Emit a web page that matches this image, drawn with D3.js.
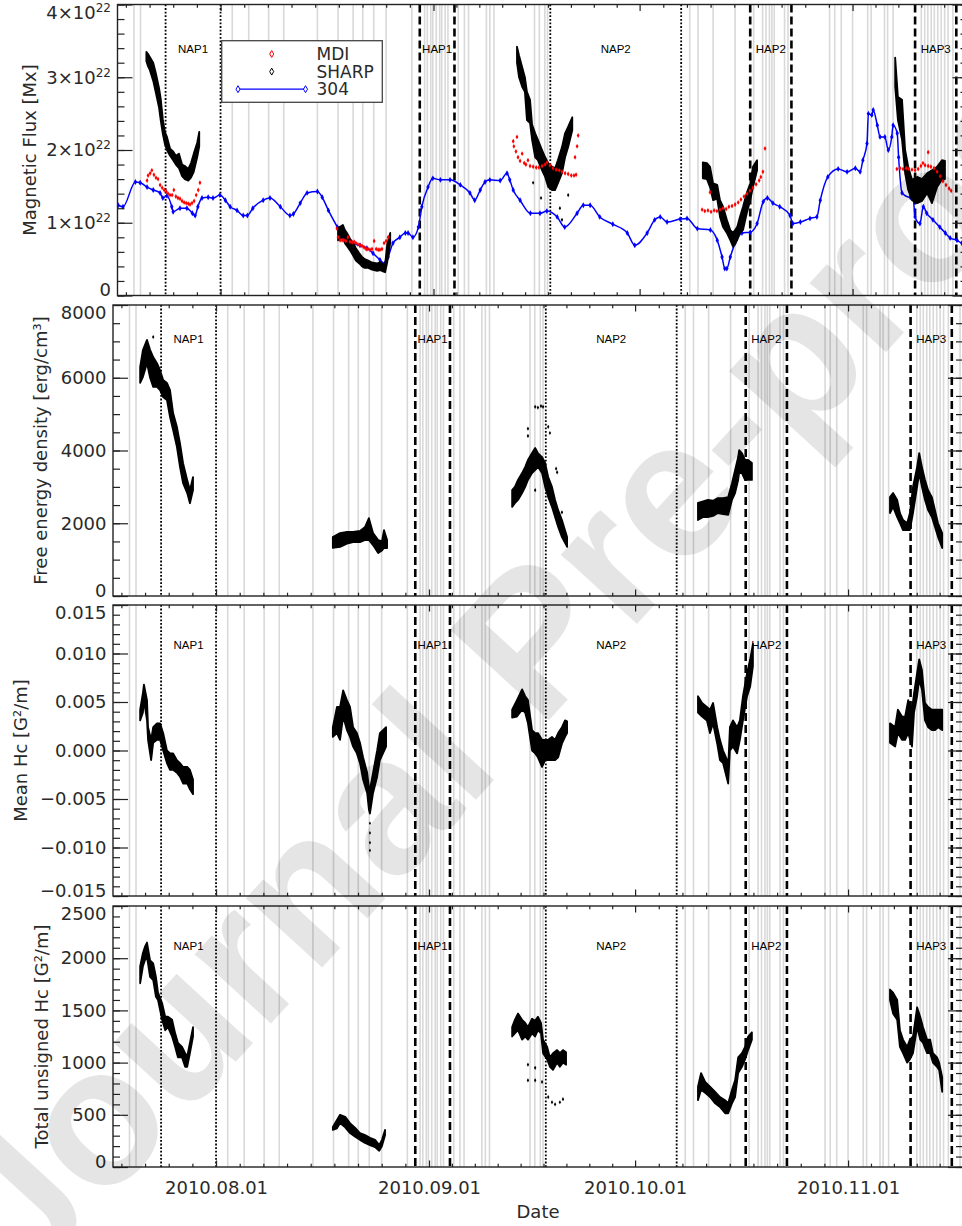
<!DOCTYPE html>
<html>
<head>
<meta charset="utf-8">
<script src="https://cdnjs.cloudflare.com/ajax/libs/d3/7.8.5/d3.min.js"></script>
<style>
  body { margin: 0; background: #fff; }
  svg { display: block; }
</style>
</head>
<body>
<div id="chart-area"></div>
<script>
/*
 *    four stacked panels, AR evolution 2010.07 - 2010.11
 *    all times are in days since 2010-07-01 00:00 UT
 */

// flare times (grey vertical lines)
const flareDays = [18.4, 19.35, 32.7, 35.1, 38.0, 40.2, 45.1, 48.1, 50.3, 51.7, 53.3, 55.1, 58.85,
    60.7, 61.1, 61.6, 61.9, 62.4, 62.9, 63.2, 63.7, 64.1, 65.6, 66.5, 67.1,
    69.7, 70.2, 70.8, 76.7, 77.4, 78.2, 78.6, 99.3, 100.5, 102.7, 105.9, 108.6,
    109.9, 110.4, 110.9, 111.25, 111.6, 113.1, 113.6, 119.65, 120.4, 121.35, 123.0,
    125.2, 125.7, 127.65, 128.1, 128.9, 133.0, 133.5, 133.95, 134.45, 134.9, 135.4,
    135.9, 136.4, 136.9, 137.6, 139.3];

// quiet (NAP) and active (HAP) periods
const periodNames = ["NAP1", "HAP1", "NAP2", "HAP2", "HAP3"];
const periodStart = [23.0, 60.0, 79.0, 108.1, 132.1];
const periodEnd = [31.0, 65.05, 98.05, 114.1, 138.1];

// panel 1: magnetic flux, units of 1e22 Mx
// SHARP: [day, low, high] of the point cloud
const sharpFlux = [
    [20.2, 3.22, 3.35], [20.45, 3.15, 3.32], [20.7, 3.10, 3.28], [21.2, 2.95, 3.20], [21.6, 2.78, 3.05],
    [22.05, 2.58, 2.85], [22.3, 2.40, 2.70], [22.6, 2.22, 2.42], [22.9, 2.08, 2.25], [23.2, 2.00, 2.18],
    [23.65, 1.92, 2.02], [24.1, 1.86, 1.98], [24.5, 1.80, 1.92], [24.95, 1.75, 1.95], [25.4, 1.64, 1.80],
    [25.8, 1.60, 1.78], [26.3, 1.58, 1.74], [26.7, 1.62, 1.82], [27.1, 1.70, 1.95], [27.6, 1.90, 2.10],
    [27.9, 2.05, 2.25],
    [48.1, 0.76, 0.93], [48.5, 0.78, 0.95], [48.8, 0.82, 0.97], [49.1, 0.72, 0.90], [49.4, 0.68, 0.86],
    [49.85, 0.62, 0.78], [50.3, 0.55, 0.72], [50.7, 0.48, 0.65], [51.2, 0.44, 0.58], [51.6, 0.40, 0.53],
    [52.0, 0.38, 0.50], [52.5, 0.38, 0.48], [52.9, 0.36, 0.46], [53.35, 0.35, 0.45], [53.8, 0.34, 0.44],
    [54.2, 0.35, 0.46], [54.65, 0.33, 0.43], [54.95, 0.32, 0.42], [55.25, 0.45, 0.70], [55.7, 0.72, 0.86],
    [74.15, 3.20, 3.42], [74.45, 3.00, 3.30], [74.9, 2.87, 3.14], [75.3, 2.80, 3.00], [75.6, 2.41, 2.80],
    [76.05, 2.37, 2.69], [76.35, 2.14, 2.35], [76.8, 1.90, 2.23], [77.2, 1.86, 2.14], [77.8, 1.72, 2.00],
    [78.25, 1.63, 1.90], [78.7, 1.49, 1.82], [79.25, 1.45, 1.77], [79.7, 1.45, 1.75], [80.1, 1.54, 1.86],
    [80.7, 1.68, 2.04], [81.15, 1.90, 2.23], [81.6, 2.04, 2.32], [82.2, 2.27, 2.45],
    [101.2, 1.61, 1.83], [101.8, 1.60, 1.82], [102.25, 1.49, 1.77], [102.7, 1.31, 1.54], [103.3, 1.33, 1.52],
    [103.7, 1.08, 1.31], [104.15, 0.94, 1.22], [104.7, 0.86, 1.04], [105.2, 0.76, 0.90], [105.6, 0.67, 0.86],
    [106.2, 0.76, 0.94], [106.6, 0.86, 1.08], [107.05, 0.90, 1.22], [107.6, 1.13, 1.41], [108.1, 1.31, 1.54],
    [108.5, 1.49, 1.77], [109.1, 1.72, 1.86],
    [129.2, 2.87, 3.27], [129.6, 2.41, 2.73], [130.2, 2.14, 2.69], [130.65, 1.68, 2.00], [131.1, 1.45, 1.77],
    [131.65, 1.31, 1.59], [132.4, 1.27, 1.63], [133.1, 1.30, 1.60], [133.85, 1.41, 1.68], [134.55, 1.27, 1.72],
    [135.3, 1.49, 1.77], [136.0, 1.59, 1.86], [136.45, 1.60, 1.85]
];
const sharpFluxOut = [[76.5, 1.55], [77.65, 1.34], [80.4, 1.20], [80.7, 1.04], [81.6, 1.38]];

// MDI: [day, flux]
const mdiFlux = [
    [20.3, 1.58], [20.45, 1.65], [20.75, 1.68], [21.0, 1.72], [21.3, 1.66], [21.6, 1.62], [21.9, 1.60],
    [22.2, 1.52], [22.5, 1.48], [22.8, 1.45], [23.1, 1.43], [23.35, 1.40], [23.65, 1.38], [23.95, 1.38],
    [24.2, 1.45], [24.5, 1.36], [24.8, 1.34], [25.1, 1.33], [25.4, 1.30], [25.7, 1.28], [26.0, 1.27],
    [26.3, 1.26], [26.55, 1.25], [26.85, 1.27], [27.15, 1.30], [27.45, 1.38], [27.75, 1.45], [28.0, 1.55],
    [47.95, 0.92], [48.1, 0.80], [48.4, 0.76], [48.7, 0.76], [48.95, 0.76], [49.25, 0.75], [49.55, 0.80],
    [49.85, 0.74], [50.15, 0.73], [50.45, 0.74], [50.7, 0.72], [51.0, 0.70], [51.3, 0.69], [51.6, 0.68],
    [51.9, 0.66], [52.2, 0.64], [52.45, 0.64], [52.75, 0.63], [53.05, 0.64], [53.35, 0.75], [53.65, 0.64],
    [53.95, 0.63], [54.2, 0.63], [54.5, 0.64], [54.8, 0.72], [55.1, 0.75], [55.4, 0.80],
    [73.6, 2.12], [73.7, 2.05], [74.0, 1.98], [74.15, 2.18], [74.3, 1.90], [74.6, 1.85], [74.9, 1.95],
    [75.2, 1.82], [75.45, 1.80], [75.75, 1.86], [76.05, 1.78], [76.5, 1.77], [76.95, 1.76], [77.35, 1.76],
    [77.8, 1.78], [78.25, 1.80], [78.55, 1.83], [78.95, 1.79], [79.4, 1.75], [79.85, 1.73], [80.3, 1.72],
    [80.7, 1.70], [81.15, 1.68], [81.6, 1.67], [82.05, 1.65], [82.45, 1.65], [82.6, 1.90], [82.75, 1.66],
    [82.9, 2.05], [83.05, 2.20],
    [101.1, 1.18], [101.5, 1.16], [101.95, 1.17], [102.25, 1.42], [102.4, 1.15], [102.85, 1.17],
    [103.25, 1.16], [103.7, 1.18], [104.15, 1.20], [104.6, 1.19], [105.0, 1.22], [105.45, 1.23],
    [105.9, 1.25], [106.35, 1.28], [106.75, 1.32], [107.2, 1.36], [107.65, 1.40], [108.05, 1.44],
    [108.5, 1.48], [108.95, 1.53], [109.4, 1.58], [109.65, 1.63], [109.95, 1.70], [110.25, 2.02],
    [129.45, 1.74], [129.9, 1.75], [130.35, 1.74], [130.8, 1.75], [131.2, 1.74], [131.65, 1.73],
    [132.1, 1.72], [132.55, 1.74], [132.95, 1.78], [133.25, 1.82], [133.55, 1.79], [134.0, 1.78],
    [134.0, 1.97], [134.4, 1.77], [134.85, 1.75], [135.3, 1.70], [135.75, 1.64], [136.15, 1.57],
    [136.6, 1.52], [137.05, 1.47], [137.35, 1.44]
];

// 304 A proxy flux: [day, flux]
const flux304 = [
    [16.1, 1.24], [16.8, 1.22], [18.6, 1.56], [19.3, 1.55], [20.3, 1.49], [21.2, 1.45], [22.2, 1.41],
    [22.6, 1.34], [23.2, 1.37], [23.9, 1.22], [24.1, 1.15], [25.1, 1.20], [26.1, 1.20], [26.9, 1.13],
    [27.3, 1.10], [27.7, 1.22], [28.3, 1.34], [29.2, 1.35], [29.9, 1.34], [30.9, 1.38], [31.7, 1.31],
    [32.4, 1.22], [33.4, 1.17], [34.3, 1.10], [34.9, 1.10], [35.7, 1.20], [37.2, 1.31], [38.2, 1.34],
    [39.7, 1.22], [41.1, 1.10], [41.6, 1.12], [42.6, 1.27], [43.6, 1.41], [45.1, 1.43], [45.8, 1.35],
    [46.7, 1.17], [48.0, 0.94], [48.8, 0.80], [49.9, 0.72], [51.3, 0.69], [52.3, 0.65], [53.2, 0.58],
    [54.2, 0.49], [54.9, 0.44], [55.4, 0.53], [56.1, 0.72], [57.1, 0.80], [57.9, 0.86], [58.3, 0.86],
    [59.0, 0.80], [59.8, 0.94], [60.3, 1.22], [61.2, 1.49], [61.9, 1.61], [63.0, 1.59], [64.4, 1.59],
    [65.9, 1.52], [67.3, 1.41], [68.0, 1.31], [68.8, 1.45], [69.5, 1.56], [70.2, 1.59], [71.7, 1.58],
    [72.7, 1.68], [73.1, 1.59], [73.6, 1.45], [74.6, 1.31], [76.1, 1.13], [77.5, 1.13], [78.5, 1.16],
    [80.0, 1.08], [81.1, 0.94], [82.9, 1.13], [83.8, 1.24], [84.8, 1.24], [86.2, 1.08], [88.1, 0.98],
    [90.2, 0.86], [91.3, 0.69], [93.1, 0.86], [94.2, 1.04], [95.0, 1.08], [96.0, 1.01], [97.9, 1.05],
    [98.9, 1.06], [100.4, 0.92], [102.3, 0.90], [103.3, 0.76], [104.0, 0.53], [104.4, 0.37], [104.7, 0.37],
    [105.2, 0.53], [105.9, 0.72], [106.9, 0.86], [108.1, 0.87], [109.1, 0.99], [110.0, 1.29], [110.6, 1.34],
    [111.4, 1.27], [112.4, 1.22], [113.9, 1.10], [114.3, 0.99], [115.4, 1.01], [116.8, 1.06], [117.8, 1.08],
    [118.3, 1.31], [119.4, 1.63], [120.9, 1.74], [122.2, 1.70], [123.4, 1.75], [124.1, 1.70], [124.5, 1.86],
    [125.1, 2.09], [125.3, 2.50], [125.8, 2.48], [126.0, 2.55], [126.6, 2.34], [127.0, 2.18], [127.7, 2.18],
    [128.2, 2.00], [128.7, 2.18], [128.9, 2.34], [129.5, 2.23], [129.7, 1.90], [130.2, 1.41], [131.4, 1.35],
    [131.8, 1.35], [132.1, 1.08], [132.8, 0.99], [133.3, 1.22], [133.8, 1.13], [134.7, 1.04], [135.7, 0.94],
    [136.5, 0.86], [137.2, 0.79], [138.2, 0.76], [138.9, 0.72], [139.7, 0.72]
];

// panel 2: free energy density [erg/cm3], [day, low, high]
const freeEnergy = [
    [19.95, 5860, 6300], [20.35, 6020, 6760], [20.95, 6400, 7040], [21.4, 6000, 6770], [21.85, 5750, 6570],
    [22.4, 5750, 6400], [22.85, 5660, 6210], [23.3, 5470, 5940], [23.85, 5390, 5860], [24.3, 4920, 5660],
    [24.75, 4560, 5030], [25.3, 4100, 4650], [25.75, 3550, 4200], [26.2, 3100, 3650], [26.8, 2830, 3190],
    [27.2, 2550, 2910], [27.65, 2910, 3270],
    [48.0, 1320, 1620], [49.05, 1350, 1730], [50.05, 1440, 1760], [50.95, 1480, 1760], [51.95, 1480, 1790],
    [52.7, 1540, 1900], [53.25, 1540, 2140], [53.85, 1400, 1730], [54.6, 1180, 1540], [55.15, 1250, 1500],
    [55.45, 1320, 1810], [55.9, 1320, 1540],
    [74.1, 2450, 2910], [74.5, 2550, 3000], [74.95, 2640, 3190], [75.55, 2830, 3380], [76.0, 3000, 3550],
    [76.4, 3190, 3740], [77.0, 3380, 3930], [77.45, 3460, 4070], [77.85, 3550, 3930], [78.45, 3380, 3820],
    [78.9, 3000, 3660], [79.35, 2720, 3270], [79.9, 2450, 3000], [80.35, 2170, 2640], [80.8, 1900, 2360],
    [81.35, 1620, 2090], [81.8, 1460, 1810], [82.1, 1350, 1620],
    [101.15, 2090, 2560], [101.9, 2170, 2600], [102.6, 2170, 2640], [103.35, 2200, 2620], [104.05, 2280, 2690],
    [104.8, 2250, 2690], [105.55, 2230, 2720], [106.1, 2640, 3100], [106.55, 2830, 3460], [107.0, 3190, 3820],
    [107.15, 3400, 4010], [107.55, 3380, 3930], [108.0, 3190, 3740], [108.45, 3190, 3740], [109.0, 3190, 3660],
    [129.1, 2280, 2720], [129.55, 2450, 2830], [130.15, 2170, 2640], [130.55, 2000, 2280], [131.0, 1810, 2090],
    [131.6, 1810, 2000], [132.0, 1810, 2280], [132.45, 2280, 3000], [133.05, 3000, 3550], [133.35, 3380, 3930],
    [133.75, 3000, 3550], [134.2, 2640, 3190], [134.65, 2360, 2910], [135.2, 2170, 2720], [135.65, 1900, 2360],
    [136.1, 1620, 2000], [136.7, 1320, 1730]
];
const freeEnergyOut = [[21.85, 7120], [76.4, 4400], [76.4, 4600], [77.45, 5200], [77.85, 5180],
    [78.3, 5220], [78.6, 5200], [79.35, 4650], [79.6, 4480], [80.5, 3500], [80.65, 3400], [81.35, 2300],
    [77.45, 2910]];

// panel 3: mean current helicity [G2/m], [day, low, high]
const meanHc = [
    [19.95, 0.0031, 0.0042], [20.35, 0.0039, 0.0059], [20.5, 0.0052, 0.0068], [20.95, 0.0031, 0.0052],
    [21.1, 0.0011, 0.0024], [21.55, -0.0010, 0.0011], [21.85, 0.0008, 0.0024], [22.4, 0.0011, 0.0028],
    [22.85, 0.0011, 0.0028], [23.3, 0.0000, 0.0018], [23.85, -0.0013, 0.0000], [24.3, -0.0020, -0.0003],
    [24.75, -0.0020, -0.0003], [25.3, -0.0023, -0.0010], [25.75, -0.0027, -0.0013], [26.2, -0.0034, -0.0017],
    [26.8, -0.0034, -0.0017], [27.2, -0.0040, -0.0020], [27.65, -0.0045, -0.0030],
    [48.0, 0.0014, 0.0024], [48.6, 0.0018, 0.0045], [49.05, 0.0011, 0.0045], [49.5, 0.0035, 0.0062],
    [50.05, 0.0021, 0.0052], [50.5, 0.0014, 0.0045], [50.95, 0.0004, 0.0024], [51.5, -0.0003, 0.0018],
    [51.95, -0.0013, 0.0008], [52.4, -0.0030, -0.0007], [53.0, -0.0044, -0.0023], [53.25, -0.0061, -0.0038],
    [53.4, -0.0065, -0.0040], [53.85, -0.0044, -0.0023], [54.45, -0.0027, 0.0000], [54.85, -0.0010, 0.0018],
    [55.3, -0.0003, 0.0021], [55.75, 0.0004, 0.0024],
    [74.1, 0.0034, 0.0042], [74.8, 0.0035, 0.0052], [75.55, 0.0042, 0.0063], [76.0, 0.0039, 0.0056],
    [76.4, 0.0028, 0.0052], [77.0, 0.0000, 0.0021], [77.45, -0.0003, 0.0018], [77.85, -0.0007, 0.0018],
    [78.45, -0.0017, 0.0011], [78.9, -0.0010, 0.0011], [79.35, -0.0010, 0.0011], [79.9, -0.0010, 0.0014],
    [80.35, -0.0010, 0.0011], [80.8, -0.0007, 0.0018], [81.35, 0.0007, 0.0024], [81.8, 0.0014, 0.0031],
    [82.1, 0.0018, 0.0030],
    [101.15, 0.0039, 0.0056], [101.75, 0.0035, 0.0049], [102.45, 0.0031, 0.0045], [102.9, 0.0018, 0.0042],
    [103.35, 0.0028, 0.0049], [103.95, 0.0007, 0.0024], [104.35, -0.0010, 0.0011], [104.8, -0.0013, 0.0000],
    [105.4, -0.0030, -0.0010], [105.55, -0.0034, -0.0017], [105.8, 0.0000, 0.0024], [106.25, 0.0004, 0.0031],
    [106.85, -0.0003, 0.0024], [107.25, 0.0011, 0.0031], [107.7, 0.0031, 0.0056], [108.3, 0.0056, 0.0080],
    [108.75, 0.0066, 0.0094], [109.15, 0.0087, 0.0110],
    [129.1, 0.0008, 0.0028], [129.85, 0.0004, 0.0024], [130.25, 0.0018, 0.0042], [130.85, 0.0011, 0.0035],
    [131.3, 0.0011, 0.0035], [131.75, 0.0018, 0.0052], [132.3, 0.0004, 0.0042], [132.6, 0.0039, 0.0059],
    [133.05, 0.0056, 0.0080], [133.35, 0.0073, 0.0094], [133.75, 0.0063, 0.0083], [134.2, 0.0031, 0.0049],
    [134.65, 0.0024, 0.0045], [135.2, 0.0021, 0.0042], [135.65, 0.0021, 0.0042], [136.1, 0.0024, 0.0042],
    [136.7, 0.0021, 0.0042]
];
const meanHcOut = [[53.4, -0.0075], [53.4, -0.0085], [53.4, -0.0095], [53.4, -0.0103]];

// panel 4: total unsigned current helicity [G2/m], [day, low, high]
const totalHc = [
    [19.95, 1760, 1920], [20.35, 1920, 2050], [20.65, 1980, 2110], [20.95, 2010, 2150], [21.4, 1820, 1980],
    [21.85, 1790, 1950], [22.25, 1630, 1820], [22.55, 1600, 1670], [23.15, 1410, 1570], [23.6, 1310, 1440],
    [24.0, 1340, 1440], [24.6, 1250, 1410], [25.05, 1150, 1280], [25.45, 1050, 1190], [26.05, 1050, 1150],
    [26.5, 960, 1090], [26.8, 960, 1060], [27.2, 1090, 1190], [27.65, 1250, 1340],
    [48.0, 355, 383], [48.6, 370, 450], [49.05, 420, 500], [49.8, 380, 480], [50.5, 325, 420],
    [51.25, 290, 375], [51.95, 260, 325], [52.7, 230, 305], [53.4, 210, 280], [54.15, 190, 260],
    [54.75, 155, 210], [55.15, 200, 260], [55.6, 305, 355],
    [74.1, 1250, 1340], [74.5, 1280, 1410], [74.95, 1310, 1470], [75.55, 1220, 1410], [76.0, 1250, 1380],
    [76.4, 1220, 1340], [77.0, 1280, 1420], [77.45, 1250, 1400], [77.85, 1310, 1440], [78.3, 1280, 1380],
    [78.6, 1090, 1220], [79.2, 1030, 1150], [79.6, 960, 1050], [80.05, 930, 1090], [80.65, 1000, 1120],
    [81.05, 960, 1090], [81.5, 1000, 1120], [81.95, 980, 1100],
    [101.15, 640, 770], [101.6, 740, 900], [102.2, 710, 815], [102.9, 670, 770], [103.65, 610, 720],
    [104.35, 575, 670], [105.1, 515, 640], [105.55, 515, 610], [106.1, 610, 740], [106.55, 670, 830],
    [107.0, 900, 1050], [107.55, 960, 1090], [108.0, 1030, 1150], [108.45, 1120, 1250], [109.0, 1220, 1290],
    [129.1, 1600, 1700], [129.55, 1470, 1670], [130.15, 1410, 1600], [130.55, 1150, 1310], [131.0, 1090, 1220],
    [131.6, 1000, 1150], [132.0, 1030, 1220], [132.45, 1090, 1250], [133.05, 1340, 1530], [133.5, 1220, 1440],
    [133.9, 1190, 1340], [134.5, 1090, 1220], [134.95, 1090, 1220], [135.35, 1000, 1090], [135.95, 960, 1050],
    [136.25, 930, 1000], [136.7, 720, 860]
];
const totalHcOut = [[76.4, 980], [76.4, 830], [77.45, 950], [77.45, 830], [78.45, 815], [79.35, 670],
    [79.9, 620], [80.35, 600], [81.05, 620], [81.5, 650]];

const width = 962;
const height = 1226;
const uiFont = "'DejaVu Sans', 'Liberation Sans', sans-serif";
const tagFont = "'Liberation Sans', Arial, sans-serif";
const ink = "#2a2a2a";

const day0 = Date.UTC(2010, 6, 1);
const toDate = (d) => new Date(day0 + d * 864e5);

const panels = [
    { top: 4.5, bottom: 295.5, left: 117.5, right: 967.5, domain: [0, 4], nMajor: 4, nMinor: 20,
      label: "Magnetic Flux [Mx]", labelX: 29, tagY: 48 },
    { top: 305, bottom: 596, left: 113, right: 963, domain: [0, 8000], nMajor: 4, nMinor: 16,
      label: "Free energy density [erg/cm³]", labelX: 40, tagY: 38 },
    { top: 605, bottom: 896, left: 113, right: 963, domain: [-0.015, 0.015], nMajor: 6, nMinor: 30,
      label: "Mean Hc [G²/m]", labelX: 20, tagY: 44 },
    { top: 906, bottom: 1167, left: 113, right: 963, domain: [0, 2500], nMajor: 5, nMinor: 25,
      label: "Total unsigned Hc [G²/m]", labelX: 41, tagY: 44 }
];

const svg = d3.select("#chart-area")
    .append("svg")
    .attr("width", width)
    .attr("height", height);

const xBase = d3.scaleUtc()
    .domain([new Date(Date.UTC(2010, 6, 17)), new Date(Date.UTC(2010, 10, 17, 17, 30))]);

// month ticks, each month split in 9 minor intervals
const months = d3.utcMonth.range(new Date(Date.UTC(2010, 6, 1)), new Date(Date.UTC(2010, 11, 2)));
const minorDates = [];
months.forEach((m) => {
    const len = d3.utcMonth.offset(m, 1) - m;
    for (let k = 1; k < 9; k++) minorDates.push(new Date(+m + k * len / 9));
});

// split a [day, ...] list into runs separated by gaps
function runs(arr) {
    const out = [];
    let cur = [];
    arr.forEach((d, j) => {
        if (j > 0 && d[0] - arr[j - 1][0] > 3) {
            out.push(cur);
            cur = [];
        }
        cur.push(d);
    });
    out.push(cur);
    return out;
}

panels.forEach((p, i) => {
    const x = xBase.copy().range([p.left, p.right]);
    const y = d3.scaleLinear().domain(p.domain).range([p.bottom, p.top]);
    const inX = (d) => d >= xBase.domain()[0] && d <= xBase.domain()[1];
    const g = svg.append("g");

    const clipId = "clip" + i;
    g.append("clipPath").attr("id", clipId)
        .append("rect")
        .attr("x", p.left).attr("y", p.top)
        .attr("width", p.right - p.left).attr("height", p.bottom - p.top);

    const plot = g.append("g").attr("clip-path", "url(#" + clipId + ")");

    // flares
    plot.selectAll(".flare")
        .data(flareDays)
        .enter()
        .append("line")
        .attr("x1", (d) => x(toDate(d)))
        .attr("x2", (d) => x(toDate(d)))
        .attr("y1", p.top)
        .attr("y2", p.bottom)
        .attr("stroke", "#d9d9d9")
        .attr("stroke-width", 1.6);

    // period boundaries
    periodNames.forEach((name, k) => {
        const quiet = name.startsWith("NAP");
        [periodStart[k], periodEnd[k]].forEach((d) => {
            plot.append("line")
                .attr("x1", x(toDate(d)))
                .attr("x2", x(toDate(d)))
                .attr("y1", p.top)
                .attr("y2", p.bottom)
                .attr("stroke", "#000")
                .attr("stroke-width", quiet ? 1.8 : 2.6)
                .attr("stroke-dasharray", quiet ? "1.8,1.8" : "8,4");
        });
        g.append("text")
            .attr("x", (x(toDate(periodStart[k])) + x(toDate(periodEnd[k]))) / 2)
            .attr("y", p.top + p.tagY)
            .attr("text-anchor", "middle")
            .attr("font-family", tagFont)
            .attr("font-size", "11.5px")
            .style("fill", "#000")
            .text(name);
    });

    const band = d3.area()
        .x((d) => x(toDate(d[0])))
        .y0((d) => y(d[1]))
        .y1((d) => y(d[2]));

    const drawBand = (arr, col) => {
        runs(arr).forEach((r) => {
            plot.append("path")
                .attr("d", band(r))
                .attr("fill", col)
                .attr("stroke", col)
                .attr("stroke-width", 1.8)
                .attr("stroke-linejoin", "round");
        });
    };
    const drawDots = (arr, col, size) => {
        plot.selectAll(null)
            .data(arr)
            .enter()
            .append("path")
            .attr("d", d3.symbol(d3.symbolDiamond, size))
            .attr("transform", (d) => "translate(" + x(toDate(d[0])) + "," + y(d[1]) + ")")
            .attr("fill", col);
    };

    if (i === 0) {
        const line = d3.line()
            .x((d) => x(toDate(d[0])))
            .y((d) => y(d[1]))
            .curve(d3.curveMonotoneX);
        plot.append("path")
            .attr("d", line(flux304))
            .attr("fill", "none")
            .attr("stroke", "#0000ff")
            .attr("stroke-width", 1.5);
        drawDots(flux304, "#0000ff", 10);
        drawBand(sharpFlux, "#000");
        drawDots(sharpFluxOut, "#000", 5);
        drawDots(mdiFlux, "#ff0000", 7);
    } else if (i === 1) {
        drawBand(freeEnergy, "#000");
        drawDots(freeEnergyOut, "#000", 5);
    } else if (i === 2) {
        drawBand(meanHc, "#000");
        drawDots(meanHcOut, "#000", 4);
    } else {
        drawBand(totalHc, "#000");
        drawDots(totalHcOut, "#000", 5);
    }

    /** Axes */
    const majorY = d3.ticks(p.domain[0], p.domain[1], p.nMajor);
    const minorY = d3.ticks(p.domain[0], p.domain[1], p.nMinor);
    const majorX = months.filter(inX);
    const minorX = minorDates.filter(inX);

    const fmt = i === 2 ? d3.format(".3f") : d3.format("d");

    const left = g.append("g")
        .attr("transform", "translate(" + p.left + ",0)")
        .call(d3.axisLeft(y).tickValues(majorY).tickSizeInner(-15).tickSizeOuter(0).tickPadding(6.5).tickFormat(fmt));
    g.append("g")
        .attr("transform", "translate(" + p.left + ",0)")
        .call(d3.axisLeft(y).tickValues(minorY).tickSizeInner(-7).tickSizeOuter(0).tickFormat(""));
    g.append("g")
        .attr("transform", "translate(" + p.right + ",0)")
        .call(d3.axisRight(y).tickValues(majorY).tickSizeInner(-15).tickSizeOuter(0).tickFormat(""));
    g.append("g")
        .attr("transform", "translate(" + p.right + ",0)")
        .call(d3.axisRight(y).tickValues(minorY).tickSizeInner(-7).tickSizeOuter(0).tickFormat(""));

    g.append("g")
        .attr("transform", "translate(0," + p.bottom + ")")
        .call(d3.axisBottom(x).tickValues(majorX).tickSizeInner(-6.5).tickSizeOuter(0).tickPadding(14)
            .tickFormat(i === 3 ? d3.utcFormat("%Y.%m.%d") : ""));
    g.append("g")
        .attr("transform", "translate(0," + p.bottom + ")")
        .call(d3.axisBottom(x).tickValues(minorX).tickSizeInner(-3.3).tickSizeOuter(0).tickFormat(""));
    g.append("g")
        .attr("transform", "translate(0," + p.top + ")")
        .call(d3.axisTop(x).tickValues(majorX).tickSizeInner(-6.5).tickSizeOuter(0).tickFormat(""));
    g.append("g")
        .attr("transform", "translate(0," + p.top + ")")
        .call(d3.axisTop(x).tickValues(minorX).tickSizeInner(-3.3).tickSizeOuter(0).tickFormat(""));

    g.selectAll(".domain").remove();
    g.selectAll(".tick line").attr("stroke", "#222").attr("stroke-width", 1.2);
    g.selectAll(".tick text")
        .attr("font-family", uiFont)
        .attr("font-size", "18px")
        .style("fill", ink);

    // end labels are pulled inside the frame
    left.selectAll(".tick text")
        .attr("dy", (d) => d === p.domain[0] ? "-0.0em" : d === p.domain[1] ? "0.75em" : "0.32em");

    if (i === 0) {
        left.selectAll(".tick text").each(function (d) {
            const t = d3.select(this);
            if (d === 0) return;
            t.text("");
            t.append("tspan").text(d + "×10");
            t.append("tspan").attr("dy", -7).attr("font-size", "12px").text("22");
        });
    }

    g.append("rect")
        .attr("x", p.left)
        .attr("y", p.top)
        .attr("width", p.right - p.left)
        .attr("height", p.bottom - p.top)
        .attr("fill", "none")
        .attr("stroke", "#222")
        .attr("stroke-width", 1.4);

    g.append("text")
        .attr("transform", "translate(" + p.labelX + "," + (p.top + p.bottom) / 2 + ") rotate(-90)")
        .attr("text-anchor", "middle")
        .attr("dominant-baseline", "central")
        .attr("font-family", uiFont)
        .attr("font-size", "18px")
        .style("fill", ink)
        .text(p.label);

    if (i === 3) {
        g.append("text")
            .attr("x", (p.left + p.right) / 2)
            .attr("y", 1218)
            .attr("text-anchor", "middle")
            .attr("font-family", uiFont)
            .attr("font-size", "18px")
            .style("fill", ink)
            .text("Date");
    }

    /** Legend */
    if (i === 0) {
        const lg = g.append("g");
        lg.append("rect")
            .attr("x", 221.7).attr("y", 40.7)
            .attr("width", 160.6).attr("height", 61.6)
            .attr("fill", "#fff")
            .attr("stroke", "#444")
            .attr("stroke-width", 1.3);
        const names = ["MDI", "SHARP", "304"];
        const cols = ["#ff0000", "#000", "#0000ff"];
        names.forEach((n, k) => {
            const yy = 54 + k * 17.6;
            if (k === 2) {
                lg.append("line")
                    .attr("x1", 238).attr("x2", 305.5)
                    .attr("y1", yy).attr("y2", yy)
                    .attr("stroke", cols[k]).attr("stroke-width", 1.2);
                [238, 305.5].forEach((xx) => {
                    lg.append("path")
                        .attr("d", d3.symbol(d3.symbolDiamond, 14))
                        .attr("transform", "translate(" + xx + "," + yy + ")")
                        .attr("fill", "#fff").attr("stroke", cols[k]).attr("stroke-width", 1);
                });
            } else {
                lg.append("path")
                    .attr("d", d3.symbol(d3.symbolDiamond, 14))
                    .attr("transform", "translate(271.7," + yy + ")")
                    .attr("fill", "#fff").attr("stroke", cols[k]).attr("stroke-width", 1);
            }
            lg.append("text")
                .attr("x", 316.5)
                .attr("y", yy + 6)
                .attr("font-family", uiFont)
                .attr("font-size", "17px")
                .style("fill", ink)
                .text(n);
        });
    }
});

// watermark
svg.append("text")
    .attr("transform", "translate(530,640) rotate(-47.5)")
    .attr("text-anchor", "middle")
    .attr("dominant-baseline", "central")
    .attr("font-family", "'Liberation Sans', Arial, sans-serif")
    .attr("font-weight", "bold")
    .attr("font-size", "195px")
    .attr("fill", "#000")
    .attr("fill-opacity", 0.1)
    .text("Journal Pre-proof");
</script>
</body>
</html>
